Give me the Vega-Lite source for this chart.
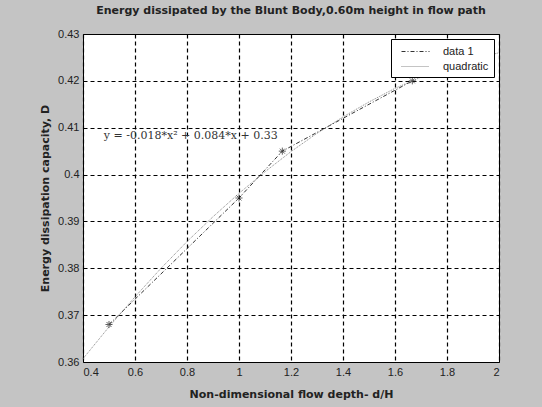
{
  "$schema": "https://vega.github.io/schema/vega-lite/v6.json",
  "autosize": {"type": "none"},
  "padding": {"left": 83, "top": 34, "right": 43, "bottom": 45},
  "width": 416,
  "height": 328,
  "background": "#c4c4c4",
  "config": {
    "font": "Liberation Sans",
    "view": {"fill": "white", "stroke": "black", "strokeWidth": 1}
  },
  "title": {
    "text": "Energy dissipated by the Blunt Body,0.60m height in flow path",
    "fontSize": 11,
    "fontWeight": "bold",
    "color": "#222",
    "font": "DejaVu Sans",
    "offset": 12,
    "anchor": "middle"
  },
  "data": {
    "values": [
      {"series": "data 1", "x": 0.5, "y": 0.368},
      {"series": "data 1", "x": 1.0, "y": 0.395},
      {"series": "data 1", "x": 1.1667, "y": 0.405},
      {"series": "data 1", "x": 1.6667, "y": 0.420},
      {"series": "quadratic", "x": 0.4, "y": 0.3607},
      {"series": "quadratic", "x": 0.5, "y": 0.3675},
      {"series": "quadratic", "x": 0.6, "y": 0.3739},
      {"series": "quadratic", "x": 0.7, "y": 0.3800},
      {"series": "quadratic", "x": 0.8, "y": 0.3857},
      {"series": "quadratic", "x": 0.9, "y": 0.3910},
      {"series": "quadratic", "x": 1.0, "y": 0.3960},
      {"series": "quadratic", "x": 1.1, "y": 0.4006},
      {"series": "quadratic", "x": 1.2, "y": 0.4049},
      {"series": "quadratic", "x": 1.3, "y": 0.4088},
      {"series": "quadratic", "x": 1.4, "y": 0.4123},
      {"series": "quadratic", "x": 1.5, "y": 0.4155},
      {"series": "quadratic", "x": 1.6, "y": 0.4184},
      {"series": "quadratic", "x": 1.7, "y": 0.4208},
      {"series": "quadratic", "x": 1.8, "y": 0.4229},
      {"series": "quadratic", "x": 1.9, "y": 0.4246},
      {"series": "quadratic", "x": 2.0, "y": 0.4260}
    ]
  },
  "layer": [
    {
      "mark": {"type": "line", "strokeWidth": 1},
      "encoding": {
        "x": {
          "field": "x", "type": "quantitative",
          "scale": {"domain": [0.4, 2], "nice": false, "zero": false},
          "axis": {
            "values": [0.4, 0.6, 0.8, 1, 1.2, 1.4, 1.6, 1.8, 2], "format": "~g",
            "grid": true, "gridColor": "black", "gridDash": [4, 3], "gridWidth": 1.2,
            "domain": false, "ticks": false,
            "labelPadding": 4, "labelFontSize": 11, "labelColor": "#222",
            "title": "Non-dimensional flow depth- d/H", "titlePadding": 11,
            "titleFont": "DejaVu Sans", "titleFontSize": 11, "titleFontWeight": "bold", "titleColor": "#222"
          }
        },
        "y": {
          "field": "y", "type": "quantitative",
          "scale": {"domain": [0.36, 0.43], "nice": false, "zero": false},
          "axis": {
            "values": [0.36, 0.37, 0.38, 0.39, 0.4, 0.41, 0.42, 0.43], "format": "~g",
            "grid": true, "gridColor": "black", "gridDash": [4, 3], "gridWidth": 1.2,
            "domain": false, "ticks": false,
            "labelPadding": 4, "labelFontSize": 11, "labelColor": "#222",
            "title": "Energy dissipation capacity, D", "titlePadding": 7,
            "titleFont": "DejaVu Sans", "titleFontSize": 11, "titleFontWeight": "bold", "titleColor": "#222"
          }
        },
        "color": {
          "field": "series", "type": "nominal",
          "scale": {"domain": ["data 1", "quadratic"], "range": ["#333333", "#888888"]},
          "legend": {
            "title": null,
            "orient": "top-right",
            "offset": 5,
            "fillColor": "white",
            "strokeColor": "black",
            "padding": 5,
            "symbolType": "M-2,0L2,0",
            "symbolSize": 196,
            "symbolOffset": 12,
            "symbolStrokeWidth": 1,
            "labelFontSize": 11,
            "labelColor": "#222",
            "labelOffset": 20,
            "rowPadding": 2
          }
        },
        "strokeDash": {
          "field": "series", "type": "nominal",
          "scale": {"domain": ["data 1", "quadratic"], "range": [[4, 2, 1, 2], [1, 1]]},
          "legend": {
            "title": null,
            "orient": "top-right",
            "offset": 5,
            "fillColor": "white",
            "strokeColor": "black",
            "padding": 5,
            "symbolType": "M-2,0L2,0",
            "symbolSize": 196,
            "symbolOffset": 12,
            "symbolStrokeWidth": 1,
            "labelFontSize": 11,
            "labelColor": "#222",
            "labelOffset": 20,
            "rowPadding": 2
          }
        }
      }
    },
    {
      "transform": [{"filter": "datum.series === 'data 1'"}],
      "mark": {
        "type": "point",
        "shape": "M-1,0L1,0M0,-1L0,1M-0.7,-0.7L0.7,0.7M-0.7,0.7L0.7,-0.7",
        "filled": false,
        "stroke": "#222",
        "strokeWidth": 1,
        "size": 50
      },
      "encoding": {
        "x": {"field": "x", "type": "quantitative"},
        "y": {"field": "y", "type": "quantitative"}
      }
    },
    {
      "data": {"values": [{"x": 0.48, "y": 0.4082, "label": "y = -0.018*x² + 0.084*x + 0.33"}]},
      "mark": {"type": "text", "align": "left", "baseline": "middle", "fontSize": 11, "font": "DejaVu Serif", "color": "#333"},
      "encoding": {
        "x": {"field": "x", "type": "quantitative"},
        "y": {"field": "y", "type": "quantitative"},
        "text": {"field": "label"}
      }
    }
  ]
}
